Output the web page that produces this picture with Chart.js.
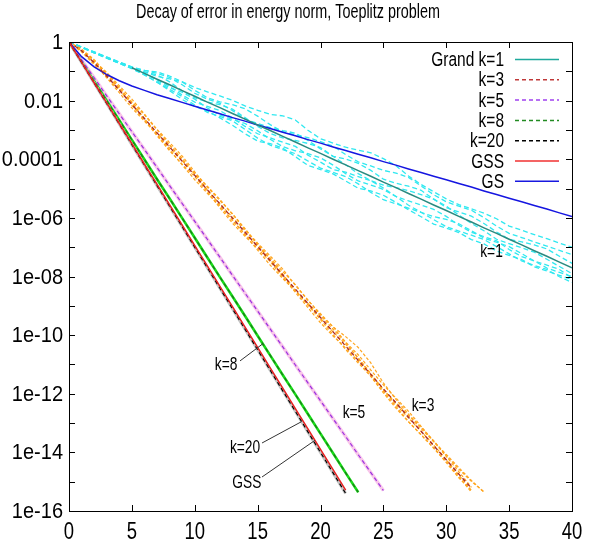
<!DOCTYPE html>
<html>
<head>
<meta charset="utf-8">
<script src="https://cdn.jsdelivr.net/npm/chart.js@4.4.1/dist/chart.umd.min.js"></script>
<style>
  html, body { margin: 0; padding: 0; background: #fff; }
  canvas { display: block; }
</style>
</head>
<body>
<canvas id="chart" width="589" height="543"></canvas>
<script>
/* ================= DATA ================= */
// values are decades: error = 10^(-d)
const iters = [0,1,2,3,4,5,6,7,8,9,10,11,12,13,14,15,16,17,18,19,20,
               21,22,23,24,25,26,27,28,29,30,31,32,33,34,35,36,37,38,39,40];

const xTicks = [0,5,10,15,20,25,30,35,40];
const yExps  = [0,1,2,3,4,5,6,7,8,9,10,11,12,13,14,15,16];
const yLabels = {0:"1", 2:"0.01", 4:"0.0001", 6:"1e-06", 8:"1e-08",
                 10:"1e-10", 12:"1e-12", 14:"1e-14", 16:"1e-16"};

const gs   = [0,0.50,0.85,1.11,1.32,1.50,1.65,1.80,1.93,2.06,2.19,2.32,2.45,2.58,2.70,2.83,2.95,3.08,3.20,3.33,3.45,
              3.58,3.70,3.83,3.95,4.08,4.20,4.33,4.45,4.58,4.70,4.83,4.95,5.08,5.20,5.33,5.45,5.58,5.70,5.83,5.95];
const gss  = [0,0.69,1.39,2.08,2.78,3.47,4.17,4.86,5.56,6.25,6.95,7.64,8.34,9.03,9.73,10.42,11.12,11.81,12.51,13.20,13.90,14.59,15.29];
const k20  = [0,0.70,1.40,2.10,2.80,3.50,4.20,4.90,5.60,6.30,7.00,7.70,8.40,9.10,9.80,10.50,11.20,11.90,12.60,13.30,14.00,14.70,15.40];
const k8   = [0,0.67,1.34,2.00,2.67,3.34,4.01,4.68,5.34,6.01,6.68,7.35,8.02,8.68,9.35,10.02,10.69,11.36,12.02,12.69,13.36,14.03,14.70,15.36];
const k5   = [0,0.61,1.22,1.84,2.45,3.06,3.67,4.28,4.90,5.51,6.12,6.73,7.34,7.96,8.57,9.18,9.79,10.40,11.02,11.63,12.24,12.85,13.46,14.08,14.69,15.30];
const k3   = [0,0.30,0.70,1.16,1.64,2.13,2.61,3.10,3.58,4.07,4.55,5.04,5.52,6.01,6.49,6.98,7.46,7.95,8.43,8.92,9.40,
              9.89,10.37,10.86,11.34,11.83,12.31,12.80,13.28,13.77,14.25,14.74,15.22];
const k1   = [null,null,null,null,null,0.88,1.07,1.27,1.46,1.66,1.85,2.05,2.24,2.44,2.63,2.83,3.02,3.22,3.41,3.61,3.80,
              4.00,4.19,4.39,4.58,4.78,4.97,5.17,5.36,5.56,5.75,5.95,6.14,6.34,6.53,6.73,6.92,7.12,7.31,7.51,7.70];

// single runs, k=1
const k1Runs = [
  [0,0.17,0.35,0.52,0.70,0.86,0.97,1.02,1.16,1.36,1.55,1.70,1.84,1.99,2.18,2.33,2.47,2.52,2.66,3.01,3.30,3.45,3.59,3.69,3.78,3.98,4.22,4.57,4.86,5.11,5.35,5.55,5.69,5.84,6.03,6.28,6.42,6.57,6.71,6.86,7.00],
  [0,0.18,0.35,0.53,0.70,0.87,1.02,1.17,1.26,1.36,1.65,1.90,2.04,2.14,2.28,2.53,2.82,3.07,3.16,3.26,3.40,3.55,3.84,4.09,4.23,4.38,4.47,4.62,4.91,5.21,5.45,5.60,5.74,5.99,6.28,6.53,6.67,6.82,6.96,7.11,7.25],
  [0,0.18,0.37,0.55,0.73,0.90,1.12,1.37,1.61,1.86,2.15,2.40,2.54,2.69,2.98,3.28,3.52,3.67,3.81,4.06,4.30,4.45,4.59,4.84,5.13,5.38,5.52,5.67,5.81,6.06,6.30,6.45,6.59,6.74,6.98,7.23,7.47,7.62,7.76,8.01,8.20],
  [0,0.18,0.36,0.54,0.72,0.89,1.07,1.32,1.56,1.71,1.95,2.25,2.49,2.64,2.78,3.03,3.32,3.57,3.71,3.81,3.95,4.20,4.49,4.74,4.88,5.03,5.27,5.57,5.81,5.96,6.05,6.20,6.44,6.69,6.83,6.98,7.22,7.47,7.71,7.86,8.00],
  [0,0.17,0.34,0.52,0.69,0.86,1.02,1.12,1.36,1.66,1.90,2.05,2.14,2.29,2.58,2.88,3.12,3.27,3.36,3.46,3.60,3.90,4.19,4.49,4.73,4.88,4.97,5.07,5.21,5.36,5.60,5.90,6.19,6.44,6.73,6.88,7.02,7.17,7.41,7.66,7.90],
  [0,0.19,0.37,0.55,0.73,0.91,1.12,1.37,1.66,1.96,2.20,2.35,2.59,2.84,3.13,3.38,3.47,3.62,3.91,4.21,4.35,4.50,4.74,4.99,5.08,5.23,5.47,5.72,5.96,6.21,6.35,6.50,6.74,6.89,7.13,7.28,7.42,7.67,7.81,7.96,8.10],
  [0,0.17,0.34,0.51,0.68,0.85,0.97,1.07,1.21,1.46,1.75,1.95,2.09,2.34,2.63,2.78,2.92,3.02,3.11,3.36,3.65,3.90,3.99,4.14,4.38,4.68,4.82,4.92,5.06,5.36,5.65,5.80,5.94,6.19,6.48,6.73,6.82,6.92,7.06,7.31,7.55],
  [0,0.18,0.36,0.54,0.71,0.88,1.07,1.27,1.51,1.81,2.05,2.20,2.34,2.59,2.88,3.13,3.27,3.42,3.56,3.86,4.10,4.35,4.44,4.59,4.73,4.98,5.27,5.42,5.56,5.71,5.95,6.25,6.49,6.64,6.78,7.08,7.32,7.47,7.61,7.76,8.05]
];

// single runs, k=3
const k3Runs = [
  [0,0.33,0.70,1.10,1.55,2.07,2.61,3.16,3.61,4.05,4.50,5.04,5.58,6.10,6.55,6.98,7.40,7.92,8.46,8.98,9.43,9.89,10.31,10.77,11.31,11.86,12.37,12.83,13.28,13.75,14.25,14.77,15.30],
  [0,0.27,0.64,1.04,1.49,1.95,2.46,2.98,3.43,3.89,4.43,4.95,5.41,5.86,6.37,6.92,7.37,7.83,8.28,8.80,9.31,9.72,10.05,10.42,10.95,11.63,12.19,12.70,13.14,13.60,14.11,14.57,14.99,15.35],
  [0,0.30,0.73,1.22,1.73,2.25,2.70,3.16,3.67,4.19,4.70,5.16,5.61,6.07,6.58,7.10,7.61,8.07,8.49,8.96,9.47,9.98,10.49,10.95,11.40,11.92,12.43,12.95,13.40,13.86,14.31,14.83,15.36],
  [0,0.24,0.60,1.10,1.61,2.16,2.67,3.10,3.52,3.97,4.51,5.07,5.52,5.98,6.43,6.89,7.42,7.98,8.49,8.92,9.34,9.80,10.25,10.80,11.34,11.87,12.31,12.74,13.19,13.63,14.07,14.52,14.96,15.35],
  [0,0.27,0.64,1.06,1.57,2.04,2.49,3.00,3.51,4.03,4.48,4.92,5.37,5.88,6.39,6.86,7.30,7.75,8.30,8.82,9.27,9.72,10.24,10.67,11.19,11.70,12.15,12.60,13.11,13.63,14.14,14.66,15.19],
  [0,0.33,0.77,1.20,1.64,2.10,2.64,3.20,3.71,4.17,4.59,5.11,5.66,6.18,6.63,7.05,7.49,8.02,8.54,9.06,9.58,10.03,10.44,10.89,11.41,11.97,12.49,12.96,13.40,13.84,14.35,14.87,15.30]
];

/* ================= HELPERS ================= */
const toPts = arr => arr.map((d, i) => ({ x: iters[i], y: d == null ? null : Math.pow(10, -d) }));
const FONT = '"Liberation Sans", Arial, Helvetica, sans-serif';

function line(data, color, width, dash) {
  return {
    data: toPts(data), borderColor: color, borderWidth: width,
    borderDash: dash || [], pointRadius: 0, tension: 0, fill: false, spanGaps: false
  };
}

// stretched text (reference glyphs are tall)
function txt(ctx, s, x, y, size, align, sy) {
  ctx.save();
  ctx.font = size + "px " + FONT;
  ctx.textAlign = align;
  ctx.textBaseline = "alphabetic";
  ctx.fillStyle = "#000";
  ctx.translate(x, y);
  ctx.scale(1, sy);
  ctx.fillText(s, 0, 0);
  ctx.restore();
}

/* ================= LEGEND / LABELS ================= */
const legendItems = [
  ["Grand k=1", "#1fa99c", []],
  ["k=3",       "#c03838", [4, 3]],
  ["k=5",       "#a040f0", [4, 3]],
  ["k=8",       "#228b22", [4, 3]],
  ["k=20",      "#000000", [4, 3]],
  ["GSS",       "#f03030", []],
  ["GS",        "#1818e0", []]
];

// text, label x, label decade, leader from [x,d] to [x,d]
const notes = [
  { t: "k=1",  x: 33.6,  d: 7.1 },
  { t: "k=3",  x: 28.15, d: 12.35 },
  { t: "k=5",  x: 22.66, d: 12.59 },
  { t: "k=8",  x: 12.5,  d: 10.95, from: [13.6, 10.88],  to: [15.4, 10.3] },
  { t: "k=20", x: 14.0,  d: 13.78, from: [15.35, 13.68], to: [18.5, 12.95] },
  { t: "GSS",  x: 14.15, d: 14.98, from: [15.35, 14.84], to: [19.56, 13.59] }
];

const decor = {
  id: "decor",
  afterDraw(chart) {
    const { ctx, chartArea: a, scales: { x, y } } = chart;
    const py = d => y.getPixelForValue(Math.pow(10, -d));

    // frame
    ctx.save();
    ctx.strokeStyle = "#000";
    ctx.lineWidth = 1;
    ctx.strokeRect(a.left + 0.5, a.top + 0.5, a.right - a.left, a.bottom - a.top);

    // ticks (inward, mirrored)
    const tl = 6;
    ctx.beginPath();
    xTicks.forEach(v => {
      const px = Math.round(x.getPixelForValue(v)) + 0.5;
      ctx.moveTo(px, a.bottom); ctx.lineTo(px, a.bottom - tl);
      ctx.moveTo(px, a.top);    ctx.lineTo(px, a.top + tl);
    });
    yExps.forEach(e => {
      const p = Math.round(py(e)) + 0.5;
      ctx.moveTo(a.left, p);  ctx.lineTo(a.left + tl, p);
      ctx.moveTo(a.right, p); ctx.lineTo(a.right - tl, p);
    });
    ctx.stroke();
    ctx.restore();

    // tick labels
    xTicks.forEach(v => txt(ctx, String(v), x.getPixelForValue(v), a.bottom + 28, 18.5, "center", 1.25));
    yExps.forEach(e => {
      if (yLabels[e]) txt(ctx, yLabels[e], a.left - 6, py(e) + 7, 20, "right", 1.1);
    });

    // title
    txt(ctx, "Decay of error in energy norm, Toeplitz problem", 288, 18, 14.4, "center", 1.35);

    // legend
    legendItems.forEach((it, i) => {
      const ly = 59 + i * 20.3;
      txt(ctx, it[0], 504, ly + 7, 15.5, "right", 1.35);
      ctx.save();
      ctx.strokeStyle = it[1];
      ctx.lineWidth = 1.5;
      ctx.setLineDash(it[2]);
      ctx.beginPath();
      ctx.moveTo(515, ly + 0.5); ctx.lineTo(559, ly + 0.5);
      ctx.stroke();
      ctx.restore();
    });

    // annotations
    notes.forEach(n => {
      const lx = x.getPixelForValue(n.x), ly = py(n.d);
      txt(ctx, n.t, lx, ly + 7, 13.8, "center", 1.3);
      if (n.from) {
        ctx.save();
        ctx.strokeStyle = "#333";
        ctx.lineWidth = 1;
        ctx.beginPath();
        ctx.moveTo(x.getPixelForValue(n.from[0]), py(n.from[1]));
        ctx.lineTo(x.getPixelForValue(n.to[0]), py(n.to[1]));
        ctx.stroke();
        ctx.restore();
      }
    });
  }
};

/* ================= CHART ================= */
// first dataset is drawn on top
const datasets = [
  line(gss, "#e82020", 1.5),
  line(k20, "#000000", 1.2, [4, 3]),
  line(k8,  "#1a7a1a", 1.2, [4, 3]),
  line(k5,  "#9a30e0", 1.2, [4, 3]),
  line(k3,  "#a82828", 1.3, [4, 3]),
  line(k1,  "#2a8a80", 1.5),
  line(gs,  "#1515e0", 1.5),
  line(k20, "#c4c4c4", 3),
  line(k8,  "#18dc18", 2.6),
  line(k5,  "#f8c6ea", 3.4)
];
k3Runs.forEach(r => datasets.push(line(r, "#ffa51e", 1.2, [3, 2])));
k1Runs.forEach(r => datasets.push(line(r, "#30e8f0", 1.3, [5, 3])));

const ctx = document.getElementById("chart").getContext("2d");

new Chart(ctx, {
  type: "line",
  data: { datasets },
  options: {
    responsive: false,
    animation: false,
    devicePixelRatio: 1,
    layout: { padding: { top: 42, right: 17, left: 0, bottom: 0 } },
    plugins: { legend: { display: false }, tooltip: { enabled: false }, title: { display: false } },
    scales: {
      x: {
        type: "linear", min: 0, max: 40,
        ticks: { display: false, stepSize: 5 },
        grid: { display: false }, border: { display: false },
        afterFit: s => { s.height = 32; }
      },
      y: {
        type: "logarithmic", min: 1e-16, max: 1,
        ticks: { display: false },
        grid: { display: false }, border: { display: false },
        afterBuildTicks: s => { s.ticks = yExps.map(e => ({ value: Math.pow(10, -e) })); },
        afterFit: s => { s.width = 69; }
      }
    }
  },
  plugins: [decor]
});
</script>
</body>
</html>
